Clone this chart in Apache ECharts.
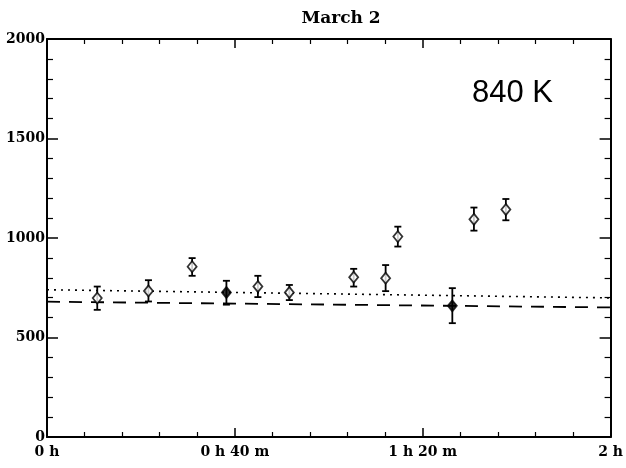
<!DOCTYPE html>
<html>
<head>
<meta charset="utf-8">
<script src="https://cdn.jsdelivr.net/npm/echarts@6/dist/echarts.min.js"></script>
<style>
  html, body { margin: 0; padding: 0; background: #fff; }
  #chart { width: 626px; height: 468px; }
</style>
</head>
<body>
<div id="chart"></div>
<script>
// time in minutes since start
var times = [10.7, 21.6, 30.9, 38.2, 44.9, 51.6, 65.3, 72.1, 74.7, 86.3, 90.9, 97.7];
var values = [698, 734, 856, 726, 756, 726, 803, 798, 1007, 659, 1094, 1143];
var errHigh = [756, 788, 899, 785, 810, 764, 845, 864, 1057, 748, 1153, 1196];
var errLow = [639, 681, 810, 665, 703, 688, 756, 733, 957, 572, 1037, 1089];
var filled = [0, 0, 0, 1, 0, 0, 0, 0, 0, 1, 0, 0];

var dottedLine = [[0, 740], [120, 699]];
var dashedLine = [[0, 680], [120, 651]];

var xLabels = { 0: '0 h', 40: '0 h 40 m', 80: '1 h 20 m', 120: '2 h' };

var serif = 'DejaVu Serif';

var pointData = times.map(function(t, i) {
  return {
    value: [t, values[i]],
    itemStyle: { color: filled[i] ? '#000' : '#fff', borderColor: '#000', borderWidth: 1.8 }
  };
});
var errData = times.map(function(t, i) { return [t, errLow[i], errHigh[i]]; });

function axisCommon(extra) {
  var a = {
    axisLine: { show: true, onZero: false, lineStyle: { color: '#000', width: 2 } },
    axisTick: { show: true, inside: true, length: 9, lineStyle: { color: '#000', width: 1.5 } },
    minorTick: { show: true, splitNumber: 5, length: 5, lineStyle: { color: '#000', width: 1.2 } },
    splitLine: { show: false },
    minorSplitLine: { show: false }
  };
  for (var k in extra) a[k] = extra[k];
  return a;
}

var chart = echarts.init(document.getElementById('chart'));
chart.setOption({
  animation: false,
  backgroundColor: '#fff',
  title: {
    text: 'March 2', left: 336, top: 5, textAlign: 'center',
    textStyle: { fontFamily: serif, fontWeight: 'bold', fontSize: 17, color: '#000' }
  },
  grid: { left: 47, right: 15, top: 39, bottom: 31 },
  xAxis: [
    axisCommon({
      type: 'value', min: 0, max: 120, interval: 40, position: 'bottom',
      axisLabel: {
        margin: 8, color: '#000', fontFamily: serif, fontWeight: 'bold', fontSize: 14,
        formatter: function(v) { return xLabels[v] || ''; }
      }
    }),
    axisCommon({
      type: 'value', min: 0, max: 120, interval: 40, position: 'top',
      axisLabel: { show: false }
    })
  ],
  yAxis: [
    axisCommon({
      type: 'value', min: 0, max: 2000, interval: 500, position: 'left',
      axisTick: { show: true, inside: true, length: 11, lineStyle: { color: '#000', width: 1.5 } },
      minorTick: { show: true, splitNumber: 5, length: 6, lineStyle: { color: '#000', width: 1.2 } },
      axisLabel: {
        margin: 2, color: '#000', fontFamily: serif, fontWeight: 'bold', fontSize: 14,
        formatter: function(v) { return String(v); }
      }
    }),
    axisCommon({
      type: 'value', min: 0, max: 2000, interval: 500, position: 'right',
      axisTick: { show: true, inside: true, length: 11, lineStyle: { color: '#000', width: 1.5 } },
      minorTick: { show: true, splitNumber: 5, length: 6, lineStyle: { color: '#000', width: 1.2 } },
      axisLabel: { show: false }
    })
  ],
  graphic: [{
    type: 'text', left: 472, top: 78,
    style: { text: '840 K', fontFamily: 'Liberation Sans', fontSize: 31, fill: '#000' }
  }],
  series: [
    {
      type: 'line', data: dottedLine, symbol: 'none', silent: true,
      lineStyle: { color: '#000', width: 1.6, type: [2, 5] }
    },
    {
      type: 'line', data: dashedLine, symbol: 'none', silent: true,
      lineStyle: { color: '#000', width: 1.8, type: [13, 9] }
    },
    {
      type: 'custom', data: errData, silent: true,
      renderItem: function(params, api) {
        var lo = api.coord([api.value(0), api.value(1)]);
        var hi = api.coord([api.value(0), api.value(2)]);
        var cap = 3.5;
        var st = { stroke: '#000', lineWidth: 1.8 };
        return {
          type: 'group',
          children: [
            { type: 'line', shape: { x1: lo[0], y1: lo[1], x2: hi[0], y2: hi[1] }, style: st },
            { type: 'line', shape: { x1: lo[0] - cap, y1: lo[1], x2: lo[0] + cap, y2: lo[1] }, style: st },
            { type: 'line', shape: { x1: hi[0] - cap, y1: hi[1], x2: hi[0] + cap, y2: hi[1] }, style: st }
          ]
        };
      },
      z: 3
    },
    {
      type: 'scatter', data: pointData, symbol: 'diamond', symbolSize: [9, 11], z: 4
    }
  ]
});
</script>
</body>
</html>
